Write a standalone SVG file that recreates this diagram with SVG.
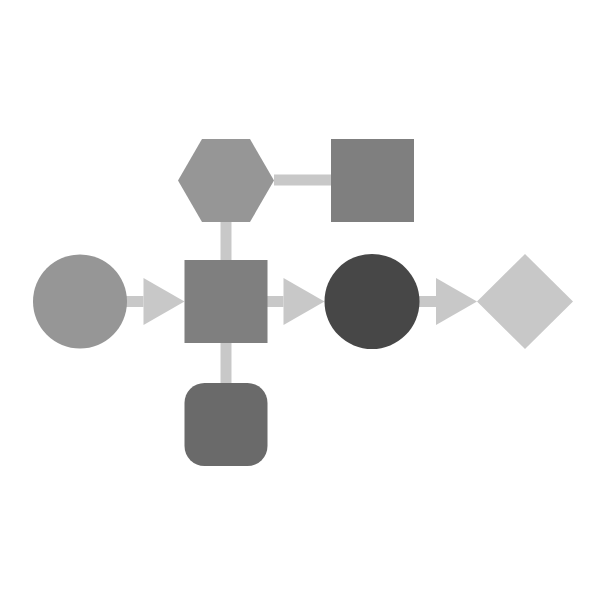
<svg xmlns="http://www.w3.org/2000/svg" width="600" height="600" viewBox="0 0 600 600">
<style>
.conn{stroke:#c8c8c8;stroke-width:11;fill:none}
.mid{fill:#7f7f7f}
.light{fill:#969696}
</style>
<defs>
<marker id="arr" markerUnits="userSpaceOnUse" markerWidth="42" markerHeight="48" refX="0" refY="23.5" orient="auto" overflow="visible">
<path d="M0,0 L41,23.5 L0,47 Z" fill="#c8c8c8"/>
</marker>
</defs>
<rect width="600" height="600" fill="#ffffff"/>
<g id="connectors">
<line class="conn" x1="274" y1="180" x2="331" y2="180"/>
<line class="conn" x1="226" y1="221" x2="226" y2="260"/>
<line class="conn" x1="226" y1="342" x2="226" y2="384"/>
<line class="conn" x1="126" y1="301.5" x2="143.5" y2="301.5" marker-end="url(#arr)"/>
<line class="conn" x1="267" y1="301.5" x2="283.5" y2="301.5" marker-end="url(#arr)"/>
<line class="conn" x1="418" y1="301.5" x2="436" y2="301.5" marker-end="url(#arr)"/>
</g>
<g id="hexagon"><polygon class="light" points="178,180.5 202,139 250,139 274,180.5 250,222 202,222"/></g>
<g id="square-top"><rect class="mid" x="331" y="139" width="83" height="83"/></g>
<g id="circle-start"><circle class="light" cx="80" cy="301.5" r="47"/></g>
<g id="square-center"><rect class="mid" x="184.5" y="260" width="83" height="83"/></g>
<g id="circle-dark"><circle fill="#474747" cx="372" cy="301.5" r="47.5"/></g>
<g id="diamond"><polygon fill="#c8c8c8" points="477,301.5 525,254 573,301.5 525,349"/></g>
<g id="rounded-square"><rect fill="#6a6a6a" x="184.5" y="383" width="83" height="83" rx="20"/></g>
</svg>
